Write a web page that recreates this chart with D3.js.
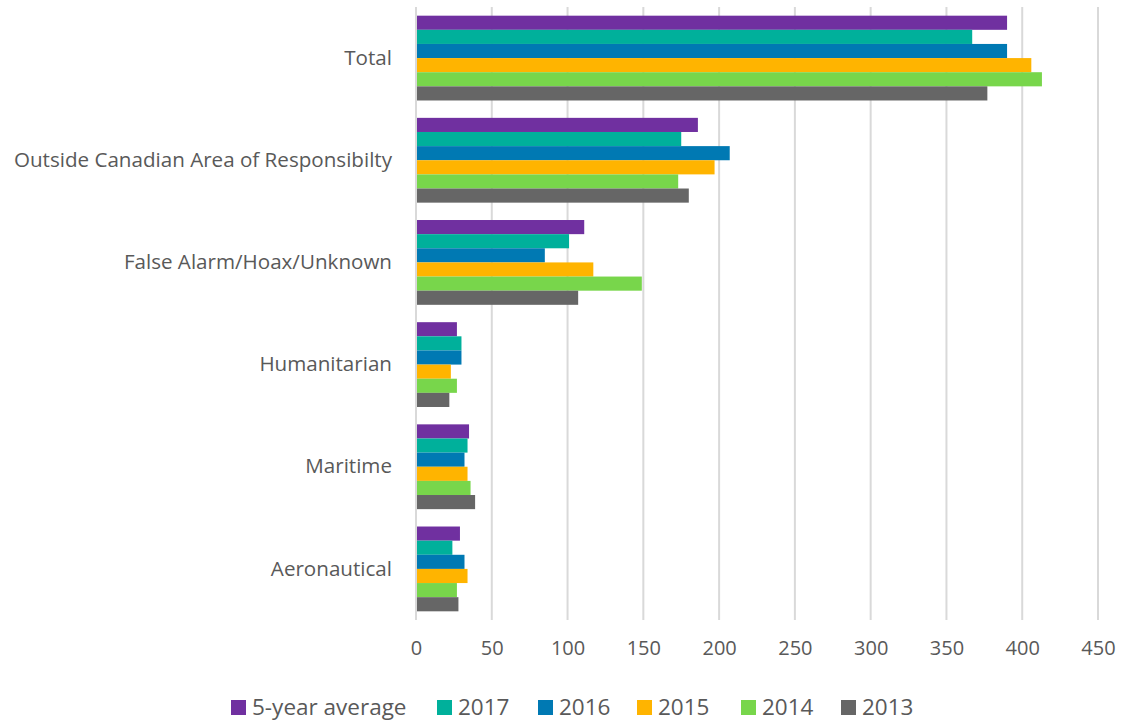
<!DOCTYPE html>
<html>
<head>
<meta charset="utf-8">
<script src="https://cdn.jsdelivr.net/npm/d3@7"></script>
<style>
  body { margin: 0; background: #fff; }
  text { font-family: "Open Sans", sans-serif; fill: #595959; }
</style>
</head>
<body>
<div id="chart"></div>
<script>
var categories = ["Total", "Outside Canadian Area of Responsibilty", "False Alarm/Hoax/Unknown", "Humanitarian", "Maritime", "Aeronautical"];
var seriesNames = ["5-year average", "2017", "2016", "2015", "2014", "2013"];
var colors = ["#7030a0", "#00b09b", "#0079b3", "#ffb400", "#78d64b", "#666666"];

var avg5  = [390, 186, 111, 27, 35, 29];
var y2017 = [367, 175, 101, 30, 34, 24];
var y2016 = [390, 207, 85, 30, 32, 32];
var y2015 = [406, 197, 117, 23, 34, 34];
var y2014 = [413, 173, 149, 27, 36, 27];
var y2013 = [377, 180, 107, 22, 39, 28];
var xTicks = [0, 50, 100, 150, 200, 250, 300, 350, 400, 450];

var seriesValues = [avg5, y2017, y2016, y2015, y2014, y2013];

var data = categories.map(function(c, i) {
    var row = { category: c };
    seriesNames.forEach(function(s, j) { row[s] = seriesValues[j][i]; });
    return row;
});

var W = 1125, H = 725;
var margin = { top: 7, right: 27, bottom: 105, left: 416 };
var width = W - margin.left - margin.right;
var height = H - margin.top - margin.bottom;

var svg = d3.select("#chart").append("svg")
    .attr("width", W)
    .attr("height", H);

var g = svg.append("g")
    .attr("transform", "translate(" + margin.left + "," + margin.top + ")");

var x = d3.scaleLinear().domain([0, 450]).range([0, width]);

var y0 = d3.scaleBand()
    .domain(categories)
    .range([0, height])
    .paddingInner(0.17)
    .paddingOuter(0.085);

var y1 = d3.scaleBand()
    .domain(seriesNames)
    .range([0, y0.bandwidth()]);

// gridlines
g.append("g")
    .selectAll("line")
    .data(xTicks)
    .enter()
    .append("line")
    .attr("x1", function(d) { return x(d); })
    .attr("x2", function(d) { return x(d); })
    .attr("y1", 0)
    .attr("y2", height)
    .attr("stroke", "#d9d9d9")
    .attr("stroke-width", 2);

// bars
var groups = g.selectAll(".cat")
    .data(data)
    .enter()
    .append("g")
    .attr("class", "cat")
    .attr("transform", function(d) { return "translate(0," + y0(d.category) + ")"; });

groups.selectAll("rect")
    .data(function(d) { return seriesNames.map(function(s, j) { return { key: s, value: d[s], color: colors[j] }; }); })
    .enter()
    .append("rect")
    .attr("x", x(0) + 1)
    .attr("y", function(d) { return y1(d.key); })
    .attr("width", function(d) { return x(d.value) - x(0) - 1; })
    .attr("height", y1.bandwidth())
    .attr("fill", function(d) { return d.color; });

// x axis labels
var xAxis = g.append("g")
    .attr("transform", "translate(0," + height + ")")
    .call(d3.axisBottom(x).tickValues(xTicks).tickSize(0).tickPadding(21));
xAxis.select(".domain").remove();
xAxis.selectAll("text")
    .style("font-size", "20px")
    .attr("fill", "#595959");

// y axis labels
var yAxis = g.append("g")
    .call(d3.axisLeft(y0).tickSize(0).tickPadding(24));
yAxis.select(".domain").remove();
yAxis.selectAll("text")
    .style("font-size", "20.6px")
    .attr("fill", "#595959");

// legend
var legendX = [231, 437, 538, 637, 741, 841];
var legend = svg.append("g");
seriesNames.forEach(function(s, i) {
    legend.append("rect")
        .attr("x", legendX[i])
        .attr("y", 700)
        .attr("width", 15)
        .attr("height", 15)
        .attr("fill", colors[i]);
    legend.append("text")
        .attr("x", legendX[i] + 21)
        .attr("y", 707)
        .attr("dy", "0.35em")
        .style("font-size", "22.5px")
        .text(s);
});
</script>
</body>
</html>
